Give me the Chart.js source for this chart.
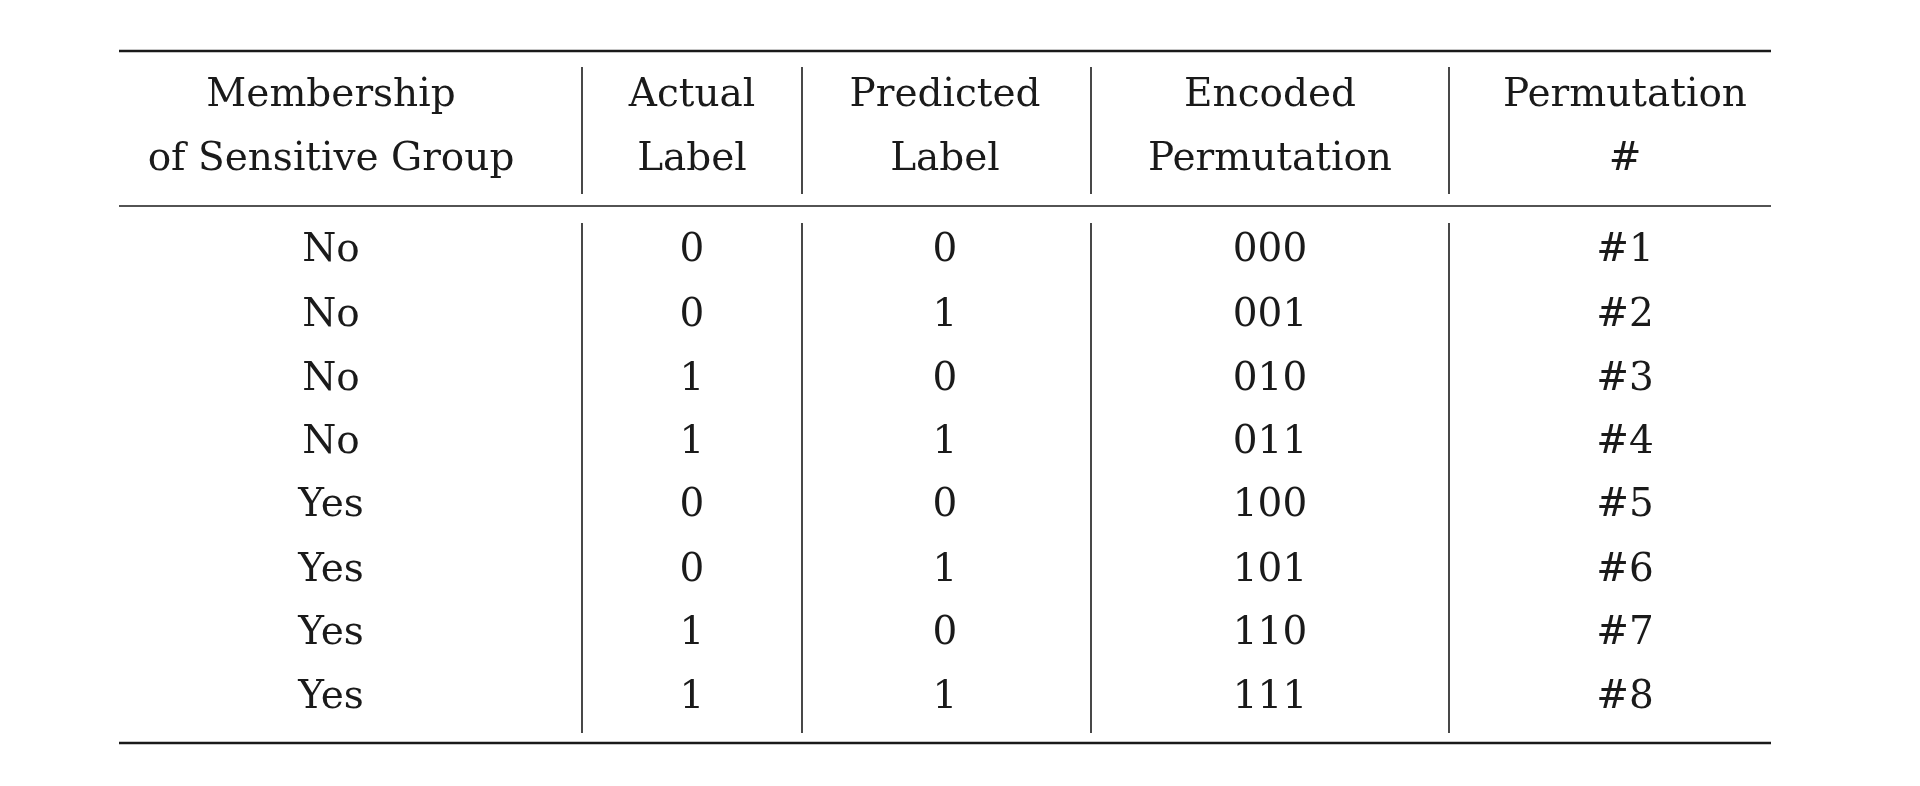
<!DOCTYPE html>
<html>
<head>
<meta charset="utf-8">
<script src="https://cdn.jsdelivr.net/npm/chart.js@4/dist/chart.umd.min.js"></script>
<style>
  html, body { margin: 0; padding: 0; background: #fff; }
  #wrap { width: 1920px; height: 786px; }
</style>
</head>
<body>
<div id="wrap"><canvas id="tbl"></canvas></div>
<script>
// table content
var headerLine1 = ['Membership', 'Actual', 'Predicted', 'Encoded', 'Permutation'];
var headerLine2 = ['of Sensitive Group', 'Label', 'Label', 'Permutation', '#'];
var membership = ['No', 'No', 'No', 'No', 'Yes', 'Yes', 'Yes', 'Yes'];
var actualLabel = ['0', '0', '1', '1', '0', '0', '1', '1'];
var predictedLabel = ['0', '1', '0', '1', '0', '1', '0', '1'];
var encoded = ['000', '001', '010', '011', '100', '101', '110', '111'];
var permNo = ['#1', '#2', '#3', '#4', '#5', '#6', '#7', '#8'];

// layout (in scale units, same as the 1920x786 page)
var colCenters = [331, 692, 945, 1270, 1625];
var colSeps = [582, 802, 1091, 1449];
var tableLeft = 119, tableRight = 1771;
var headerY = [96, 160];
var rowY = [251, 316, 380, 443, 506, 571, 634, 698];
var rules = [{ y: 51, w: 2.6 }, { y: 206, w: 1.6 }, { y: 743, w: 2.6 }];
var sepSpans = [[67, 194], [223, 733]];

var columns = [membership, actualLabel, predictedLabel, encoded, permNo];

// one invisible point per body cell so the scales own the cell grid
var cellPoints = [];
columns.forEach(function(col, c) {
    col.forEach(function(v, r) { cellPoints.push({ x: colCenters[c], y: rowY[r], text: v }); });
});

var tablePlugin = {
    id: 'tablePlugin',
    afterDraw: function(chart) {
        var ctx = chart.ctx, xs = chart.scales.x, ys = chart.scales.y;
        ctx.save();
        ctx.strokeStyle = '#1a1a1a';
        rules.forEach(function(r) {
            ctx.lineWidth = r.w;
            ctx.beginPath();
            ctx.moveTo(xs.getPixelForValue(tableLeft), ys.getPixelForValue(r.y));
            ctx.lineTo(xs.getPixelForValue(tableRight), ys.getPixelForValue(r.y));
            ctx.stroke();
        });
        ctx.lineWidth = 1.6;
        colSeps.forEach(function(x) {
            sepSpans.forEach(function(s) {
                ctx.beginPath();
                ctx.moveTo(xs.getPixelForValue(x), ys.getPixelForValue(s[0]));
                ctx.lineTo(xs.getPixelForValue(x), ys.getPixelForValue(s[1]));
                ctx.stroke();
            });
        });
        ctx.fillStyle = '#1a1a1a';
        ctx.font = '39px "DejaVu Serif", "Liberation Serif", serif';
        ctx.textAlign = 'center';
        ctx.textBaseline = 'middle';
        colCenters.forEach(function(x, c) {
            ctx.fillText(headerLine1[c], xs.getPixelForValue(x), ys.getPixelForValue(headerY[0]));
            ctx.fillText(headerLine2[c], xs.getPixelForValue(x), ys.getPixelForValue(headerY[1]));
        });
        cellPoints.forEach(function(p) {
            ctx.fillText(p.text, xs.getPixelForValue(p.x), ys.getPixelForValue(p.y));
        });
        ctx.restore();
    }
};

new Chart(document.getElementById('tbl').getContext('2d'), {
    type: 'scatter',
    data: { datasets: [{ data: cellPoints, pointRadius: 0 }] },
    options: {
        responsive: true,
        maintainAspectRatio: false,
        animation: false,
        layout: { padding: 0 },
        plugins: { legend: { display: false }, tooltip: { enabled: false } },
        scales: {
            x: { type: 'linear', min: 0, max: 1920, display: false },
            y: { type: 'linear', min: 0, max: 786, reverse: true, display: false }
        }
    },
    plugins: [tablePlugin]
});
</script>
</body>
</html>
